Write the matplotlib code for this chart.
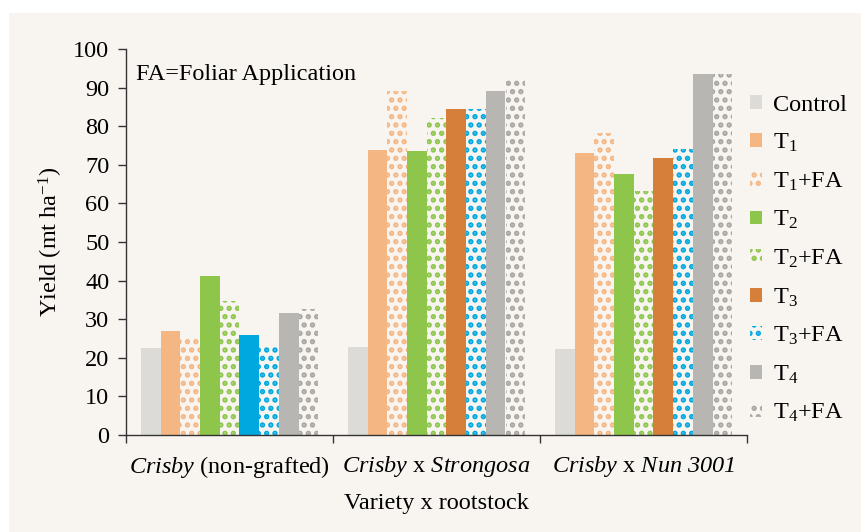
import numpy as np
import matplotlib
matplotlib.use("Agg")
import matplotlib.pyplot as plt
from matplotlib.patches import Rectangle, Patch

plt.rcParams['font.family'] = ['Liberation Serif', 'DejaVu Serif']
plt.rcParams['mathtext.fontset'] = 'custom'
plt.rcParams['mathtext.rm'] = 'Liberation Serif'
plt.rcParams['mathtext.it'] = 'Liberation Serif:italic'
plt.rcParams['mathtext.sf'] = 'Liberation Serif:italic'
plt.rcParams['mathtext.bf'] = 'Liberation Serif:bold'
plt.rcParams['hatch.linewidth'] = 2.6

groups = [r'$\mathsf{Crisby}$ (non-grafted)', r'$\mathsf{Crisby}$ x $\mathsf{Strongosa}$',
          r'$\mathsf{Crisby}$ x $\mathsf{Nun\ 3001}$']
series = ['Control', 'T$_1$', 'T$_1$+FA', 'T$_2$', 'T$_2$+FA', 'T$_3$', 'T$_3$+FA', 'T$_4$', 'T$_4$+FA']
control = [22.5, 22.9, 22.4]
t1 = [26.9, 73.8, 73.0]
t1fa = [24.9, 89.1, 78.2]
t2 = [41.1, 73.5, 67.6]
t2fa = [34.6, 82.2, 63.1]
t3 = [25.9, 84.4, 71.7]
t3fa = [23.0, 84.4, 74.0]
t4 = [31.5, 89.1, 93.6]
t4fa = [32.6, 92.2, 93.6]
values = [control, t1, t1fa, t2, t2fa, t3, t3fa, t4, t4fa]
yticks = list(range(0, 101, 10))

colors = ['#DCDBD8', '#F4B784', '#F4B784', '#8DC64B', '#8DC64B', '#D67F3A', '#00A8E0', '#B8B6B3', '#A8A6A3']
# in the first group the T3 bar is drawn in blue in the original figure
bar_colors = [[c] * 3 for c in colors]
bar_colors[5] = ['#00A8E0', '#D67F3A', '#D67F3A']
hatched = [False, False, True, False, True, False, True, False, True]
bg = '#F8F5F1'
FS = 17.5

fig = plt.figure(figsize=(8.61, 5.32), dpi=100, facecolor='white')
fig.patches.append(Rectangle((9/861, 0), 1, 1 - 13/532, transform=fig.transFigure,
                             facecolor=bg, edgecolor='none', zorder=-10))
ax = fig.add_axes([126/861, 1 - 435/532, (747-126)/861, (435-49)/532])
ax.set_facecolor('none')

w = 1 / 10.5
x = np.arange(len(groups))
handles = []
for i, (lab, vals) in enumerate(zip(series, values)):
    pos = x - 0.5 + 0.75 * w + (i + 0.5) * w
    for j in range(len(groups)):
        if hatched[i]:
            ax.bar(pos[j], vals[j], w, facecolor=bg, edgecolor=bar_colors[i][j], hatch='..', linewidth=0)
        else:
            ax.bar(pos[j], vals[j], w, color=bar_colors[i][j], linewidth=0)
    if hatched[i]:
        handles.append(Patch(facecolor=bg, edgecolor=colors[i], hatch='..', linewidth=0, label=lab))
    else:
        handles.append(Patch(facecolor=colors[i], edgecolor='none', label=lab))

ax.set_xlim(-0.5, 2.5)
ax.set_ylim(0, 100)
ax.set_yticks(yticks)
ax.set_xticks([-0.5, 0.5, 1.5, 2.5])
ax.set_xticklabels([])
ax.set_xticks(x, minor=True)
ax.set_xticklabels(groups, minor=True)
ax.tick_params(axis='x', which='minor', length=0, pad=14, labelsize=FS)
ax.tick_params(axis='x', which='major', length=6, width=1, color='#333333')
ax.tick_params(axis='y', length=6, width=1, color='#333333', labelsize=FS, pad=6)
for s in ['top', 'right']:
    ax.spines[s].set_visible(False)
for s in ['left', 'bottom']:
    ax.spines[s].set_color('#333333')
    ax.spines[s].set_linewidth(1)

ax.set_ylabel('Yield (mt ha$^{-1}$)', fontsize=FS, labelpad=6)
ax.set_xlabel('Variety x rootstock', fontsize=FS, labelpad=9)
ax.text(0.016, 0.935, 'FA=Foliar Application', transform=ax.transAxes, fontsize=FS, va='center', ha='left')

fig.legend(handles=handles, loc='upper left', bbox_to_anchor=(740/861, 1 - 85/532),
           frameon=False, fontsize=FS, handlelength=0.5, handleheight=0.5,
           handletextpad=0.45, labelspacing=0.67, borderaxespad=0)

fig.savefig('out.png', dpi=100, facecolor='white')
